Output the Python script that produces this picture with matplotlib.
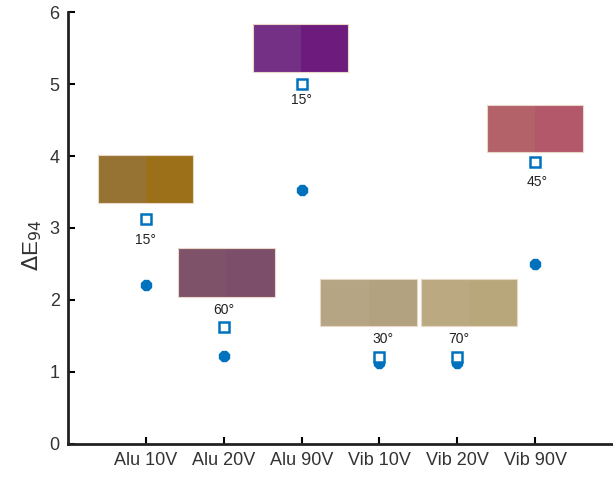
import numpy as np
import matplotlib
matplotlib.use('Agg')
import matplotlib.pyplot as plt
from matplotlib.patches import Rectangle

plt.rcParams['font.family'] = ['Liberation Sans', 'DejaVu Sans']

samples = ['Alu 10V', 'Alu 20V', 'Alu 90V', 'Vib 10V', 'Vib 20V', 'Vib 90V']
de_square = [3.12, 1.62, 5.00, 1.21, 1.21, 3.91]
de_star = [2.21, 1.22, 3.53, 1.12, 1.12, 2.50]
angles = ['15°', '60°', '15°', '30°', '70°', '45°']
# colour swatches: (left half, right half)
swatch_left = ['#967332', '#7e536a', '#733085', '#b5a584', '#bba982', '#b3626a']
swatch_right = ['#9b7019', '#7d4e69', '#6e1b7e', '#b2a27f', '#b9a77c', '#b3576b']
# swatch boxes: x0, x1, y0, y1 in data units
swatch_x0 = [0.38, 1.41, 2.38, 3.24, 4.54, 5.38]
swatch_x1 = [1.61, 2.66, 3.60, 4.48, 5.77, 6.62]
swatch_y0 = [3.35, 2.04, 5.17, 1.64, 1.64, 4.06]
swatch_y1 = [4.01, 2.72, 5.83, 2.29, 2.29, 4.71]
label_y = [2.83, 1.86, 4.78, 1.46, 1.46, 3.64]
label_dx = [0, 0, 0, 0.04, 0.02, 0.03]

x = np.arange(1, len(samples) + 1)
blue = '#0072BD'

fig = plt.figure(figsize=(6.13, 4.83), dpi=100)
ax = fig.add_axes([0.111, 0.081, 0.889, 0.894])

for i in range(len(samples)):
    xm = (swatch_x0[i] + swatch_x1[i]) / 2
    w = swatch_x1[i] - swatch_x0[i]
    h = swatch_y1[i] - swatch_y0[i]
    ax.add_patch(Rectangle((swatch_x0[i], swatch_y0[i]), xm - swatch_x0[i], h,
                           color=swatch_left[i], lw=0, zorder=1))
    ax.add_patch(Rectangle((xm, swatch_y0[i]), swatch_x1[i] - xm, h,
                           color=swatch_right[i], lw=0, zorder=1))
    ax.add_patch(Rectangle((swatch_x0[i], swatch_y0[i]), w, h, fill=False,
                           ec='#e8d8c8', lw=0.8, zorder=1))
    ax.text(x[i] + label_dx[i], label_y[i], angles[i], ha='center', va='center',
            fontsize=10, color='#222222')

ax.plot(x, de_star, ls='none', marker='8', ms=8.5, color=blue, zorder=3)
ax.plot(x, de_square, ls='none', marker='s', ms=7.5, mfc='white', mec=blue,
        mew=1.8, zorder=4)

ax.set_xlim(0, 7)
ax.set_ylim(0, 6)
ax.set_xticks(x)
ax.set_xticklabels(samples)
ax.set_yticks(range(7))
ax.set_ylabel(r'$\Delta$E$_{94}$', fontsize=16, color='#333333')
ax.yaxis.set_label_coords(-0.045, 0.46)
ax.tick_params(direction='in', length=5, width=1.5, labelsize=13,
               labelcolor='#333333', pad=6)
for s in ['top', 'right']:
    ax.spines[s].set_visible(False)
for s in ['left', 'bottom']:
    ax.spines[s].set_linewidth(2)
    ax.spines[s].set_color('#222222')

fig.savefig('out.png', dpi=100)
